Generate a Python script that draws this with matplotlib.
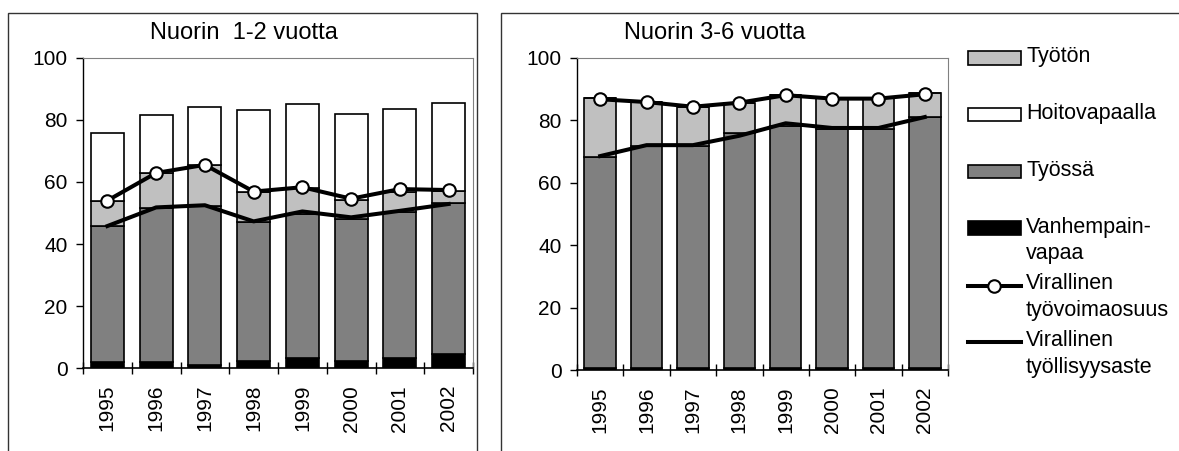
import numpy as np
import matplotlib
matplotlib.use("Agg")
from matplotlib import pyplot as plt
from matplotlib.patches import Patch, Rectangle
from matplotlib.lines import Line2D
from matplotlib.legend_handler import HandlerPatch, HandlerLine2D
from matplotlib.transforms import Affine2D

plt.rcParams['font.family'] = ['Liberation Sans', 'DejaVu Sans']

years = ['1995', '1996', '1997', '1998', '1999', '2000', '2001', '2002']

# Nuorin 1-2 vuotta
vanh_12 = [2.0, 2.1, 1.2, 2.3, 3.2, 2.2, 3.2, 4.5]
tyossa_12 = [43.8, 49.5, 51.2, 44.9, 46.6, 46.0, 47.0, 48.6]
tyoton_12 = [8.2, 11.2, 13.1, 9.7, 8.1, 6.0, 6.7, 4.0]
hoito_12 = [21.6, 18.6, 18.6, 26.3, 27.3, 27.8, 26.6, 28.2]
tvo_12 = [54.0, 62.9, 65.5, 56.9, 58.3, 54.6, 57.7, 57.4]
tyoll_12 = [45.8, 51.8, 52.5, 47.3, 50.5, 48.6, 50.7, 52.9]

# Nuorin 3-6 vuotta
vanh_36 = [0.8, 0.6, 0.7, 0.8, 0.8, 0.8, 0.8, 0.8]
tyossa_36 = [67.5, 71.1, 71.1, 75.0, 77.3, 76.3, 76.3, 80.3]
tyoton_36 = [18.9, 14.0, 12.3, 9.6, 9.9, 9.9, 9.9, 7.5]
hoito_36 = [0.0, 0.0, 0.0, 0.0, 0.0, 0.0, 0.0, 0.0]
tvo_36 = [86.7, 85.8, 84.3, 85.6, 88.0, 86.9, 86.9, 88.3]
tyoll_36 = [68.5, 72.0, 72.0, 75.0, 79.0, 77.5, 77.5, 81.0]

c_tyoton = '#C0C0C0'
c_hoito = 'white'
c_tyossa = '#808080'
c_vanh = 'black'
edge_lw = 1.2
line_lw = 2.9
FS = 15
FS_TITLE = 17
FS_LEG = 15.5

fig = plt.figure(figsize=(11.79, 4.51), dpi=100)

# panel frames
W, H = 1179, 451
fig.add_artist(Rectangle((8 / W, -0.05), (477 - 8) / W, 1.05 - 13 / H,
                         transform=fig.transFigure, fill=False, ec='#333333', lw=1))
fig.add_artist(Rectangle((501 / W, -0.05), 0.6, 1.05 - 13 / H,
                         transform=fig.transFigure, fill=False, ec='#333333', lw=1))


def panel(rect, title, tx, vanh, tyossa, tyoton, hoito, tvo, tyoll):
    ax = fig.add_axes(rect)
    x = np.arange(len(years))
    w = 0.68
    b1 = np.array(vanh)
    b2 = b1 + np.array(tyossa)
    b3 = b2 + np.array(tyoton)
    ax.bar(x, vanh, w, color=c_vanh, edgecolor='black', lw=edge_lw, zorder=2)
    ax.bar(x, tyossa, w, bottom=b1, color=c_tyossa, edgecolor='black', lw=edge_lw, zorder=2)
    ax.bar(x, tyoton, w, bottom=b2, color=c_tyoton, edgecolor='black', lw=edge_lw, zorder=2)
    ax.bar(x, hoito, w, bottom=b3, color=c_hoito, edgecolor='black', lw=edge_lw, zorder=2)
    ax.plot(x, tyoll, color='black', lw=line_lw, zorder=3)
    ax.plot(x, tvo, color='black', lw=line_lw, marker='o', ms=9, mfc='white',
            mec='black', mew=1.5, zorder=4)
    ax.set_xlim(-0.5, len(years) - 0.5)
    ax.set_ylim(0, 100)
    ax.set_yticks([0, 20, 40, 60, 80, 100])
    ax.tick_params(axis='y', direction='out', length=5, width=1, pad=6, labelsize=FS)
    ax.set_xticks(np.arange(len(years) + 1) - 0.5)
    ax.set_xticklabels([])
    ax.set_xticks(x, minor=True)
    ax.set_xticklabels(years, minor=True, rotation=90, fontsize=FS)
    ax.tick_params(axis='x', which='major', direction='inout', length=9, width=1)
    ax.tick_params(axis='x', which='minor', length=0, pad=12)
    for s in ['top', 'right']:
        ax.spines[s].set_color('#808080')
        ax.spines[s].set_linewidth(0.8)
    ax.spines['left'].set_linewidth(1)
    ax.spines['bottom'].set_linewidth(1.2)
    ax.text(tx, 1.08, title, transform=ax.transAxes, ha='center', va='center', fontsize=FS_TITLE)
    return ax


panel([83 / W, 1 - 368.3 / H, 390 / W, 310.6 / H], 'Nuorin  1-2 vuotta', 0.413,
      vanh_12, tyossa_12, tyoton_12, hoito_12, tvo_12, tyoll_12)
panel([577 / W, 1 - 370 / H, 371 / W, 312.3 / H], 'Nuorin 3-6 vuotta', 0.372,
      vanh_36, tyossa_36, tyoton_36, hoito_36, tvo_36, tyoll_36)


# legend: every entry is two text lines tall, symbol level with the first line
class TopPatch(HandlerPatch):
    def __init__(self, dy=0, **kw):
        super().__init__(**kw)
        self.dy = dy

    def create_artists(self, legend, orig_handle, xdescent, ydescent, width, height, fontsize, trans):
        arts = super().create_artists(legend, orig_handle, xdescent, ydescent, width, height, fontsize, trans)
        for a in arts:
            a.set_transform(Affine2D().translate(0, self.dy) + trans)
        return arts


class TopLine(HandlerLine2D):
    def __init__(self, dy=0, **kw):
        super().__init__(**kw)
        self.dy = dy

    def create_artists(self, legend, orig_handle, xdescent, ydescent, width, height, fontsize, trans):
        arts = super().create_artists(legend, orig_handle, xdescent, ydescent, width, height, fontsize, trans)
        for a in arts:
            a.set_transform(Affine2D().translate(0, self.dy) + trans)
        return arts


dy = 9
h1 = Patch(facecolor=c_tyoton, edgecolor='black', lw=edge_lw)
h2 = Patch(facecolor=c_hoito, edgecolor='black', lw=edge_lw)
h3 = Patch(facecolor=c_tyossa, edgecolor='black', lw=edge_lw)
h4 = Patch(facecolor=c_vanh, edgecolor='black', lw=edge_lw)
h5 = Line2D([], [], color='black', lw=line_lw, marker='o', ms=9, mfc='white', mec='black', mew=1.5)
h6 = Line2D([], [], color='black', lw=line_lw)
labels = ['Työtön\n', 'Hoitovapaalla\n', 'Työssä\n', 'Vanhempain-\nvapaa',
          'Virallinen\ntyövoimaosuus', 'Virallinen\ntyöllisyysaste']
leg = fig.legend([h1, h2, h3, h4, h5, h6], labels, loc='upper left',
                 bbox_to_anchor=(968 / W, 1 - 46 / H), frameon=False, fontsize=FS_LEG,
                 handlelength=2.45, handleheight=0.6, handletextpad=0.25,
                 labelspacing=0.43, borderpad=0, borderaxespad=0,
                 handler_map={h1: TopPatch(dy), h2: TopPatch(dy), h3: TopPatch(dy),
                              h4: TopPatch(dy), h5: TopLine(dy), h6: TopLine(dy)})
for t in leg.get_texts():
    t.set_linespacing(1.35)

fig.savefig('out.png', dpi=100)
